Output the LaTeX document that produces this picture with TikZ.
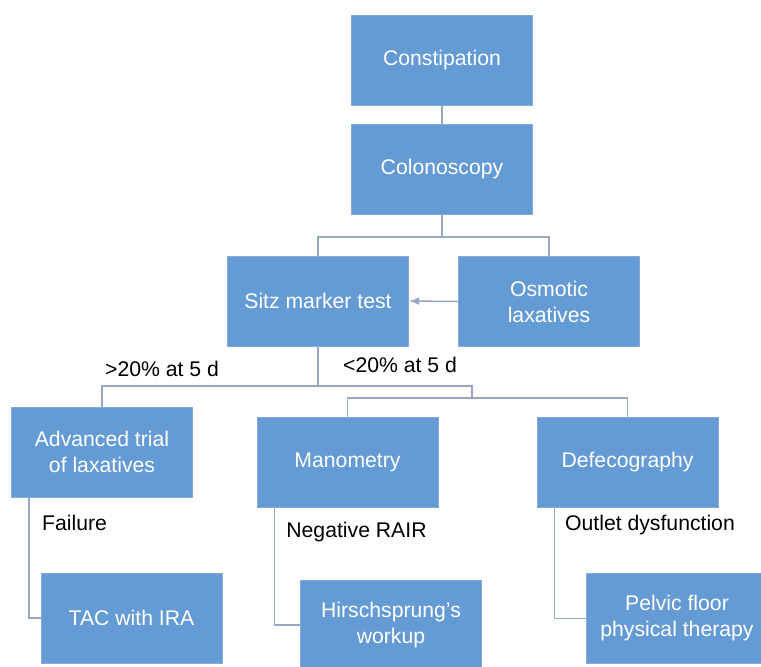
\documentclass[tikz,border=0pt]{standalone}
\usepackage{fontspec}
\setmainfont{Liberation Sans}
\usetikzlibrary{arrows,calc}
\definecolor{boxblue}{HTML}{659BD4}
\definecolor{boxedge}{HTML}{86AAD8}
\definecolor{linkgrey}{HTML}{97A6C4}

\begin{document}
\begin{tikzpicture}[x=0.5pt,y=-0.5pt,
  stepbox/.style={rectangle,fill=boxblue,draw=boxedge,line width=0.5pt,
    minimum width=90.5pt,minimum height=45pt,align=center,text=white,
    font=\fontsize{10.6}{13}\selectfont},
  note/.style={text=black,inner sep=0pt,text height=0.72em,text depth=0pt,
    font=\fontsize{10.6}{13}\selectfont},
  link/.style={draw=linkgrey,line width=0.75pt},
  drop/.style={xshift=9pt}]
\useasboundingbox (0,0) rectangle (761,666);
\clip (0,0) rectangle (761,666);
% boxes
\node[stepbox] (constip) at (442,60) {Constipation};
\node[stepbox] (colon) at (442,169) {Colonoscopy};
\node[stepbox] (sitz) at (318,301) {Sitz marker test};
\node[stepbox] (osmotic) at (549,301.5) {Osmotic\\laxatives};
\node[stepbox] (advanced) at (102,452) {Advanced trial\\of laxatives};
\node[stepbox] (mano) at (347.5,462.5) {Manometry};
\node[stepbox] (defeco) at (627.5,462.5) {Defecography};
\node[stepbox] (tac) at (131.5,618) {TAC with IRA};
\node[stepbox] (hirsch) at (391,625) {Hirschsprung's\\workup};
\node[stepbox] (pelvic) at (677,618.5) {Pelvic floor\\physical therapy};
% branch points
\coordinate (split1) at (442,237);
\coordinate (split2) at (318,386);
\coordinate (split3) at (472,398);
% connectors
\draw[link] (constip.south) -- (colon.north);
\draw[link] (colon.south) -- (split1);
\draw[link] (sitz.north) |- (split1) -| (osmotic.north);
\draw[link,-latex] (osmotic.west) -- (sitz.east);
\draw[link] (sitz.south) -- (split2);
\draw[link] (advanced.north) |- (split2) -| (split3);
\draw[link] (mano.north) |- (split3) -| (defeco.north);
\draw[link] ([drop]advanced.south west) |- (tac.west);
\draw[link] ([drop]mano.south west) |- (hirsch.west);
\draw[link] ([drop]defeco.south west) |- (pelvic.west);
% labels
\node[note] (over) at (162,369) {>20\% at 5 d};
\node[note] (under) at (400,365) {<20\% at 5 d};
\node[note] (fail) at (74.5,523) {Failure};
\node[note] (rair) at (356.5,530) {Negative RAIR};
\node[note] (outlet) at (650,523) {Outlet dysfunction};
\end{tikzpicture}
\end{document}
